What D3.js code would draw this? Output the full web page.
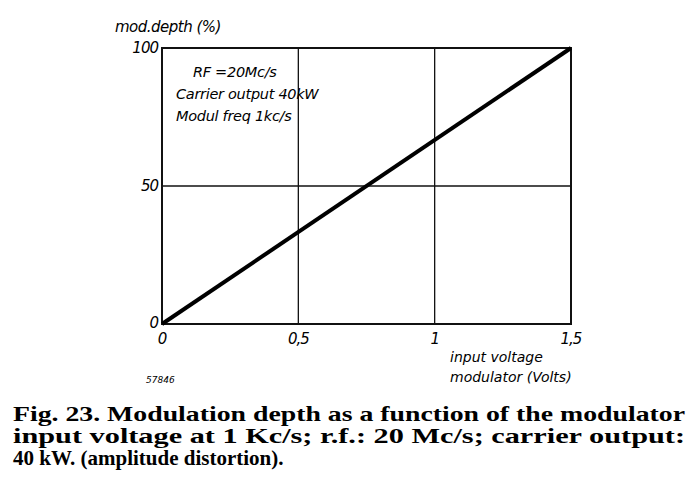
<!DOCTYPE html><html><head><meta charset="utf-8"><script src="https://d3js.org/d3.v7.min.js"></script>
<style>body{margin:0;background:#fff}</style></head><body><svg id="c" width="698" height="491"></svg>
<script>
const xTicks=[0,0.5,1,1.5];
const xLabels=["0","0,5","1","1,5"];
const yTicks=[0,50,100];
const yLabels=["0","50","100"];
const lineX=[0,1.5];
const lineY=[0,100];
const notes=["RF =20Mc/s","Carrier output 40kW","Modul freq 1kc/s"];
const caption=["Fig. 23.  Modulation depth as a function of the modulator","input voltage at 1 Kc/s; r.f.: 20 Mc/s; carrier output:","40 kW. (amplitude distortion)."];
const svg=d3.select("#c");
const x=d3.scaleLinear().domain([0,1.5]).range([162,571]);
const y=d3.scaleLinear().domain([0,100]).range([324,48]);
const hand="'DejaVu Sans', sans-serif";
svg.append("g").selectAll("line").data(xTicks.slice(1,3)).join("line")
 .attr("x1",d=>x(d)).attr("x2",d=>x(d)).attr("y1",y(0)).attr("y2",y(100)).attr("stroke","#111").attr("stroke-width",1.3);
svg.append("line").attr("x1",x(0)).attr("x2",x(1.5)).attr("y1",y(50)).attr("y2",y(50)).attr("stroke","#111").attr("stroke-width",1.3);
svg.append("rect").attr("x",x(0)).attr("y",y(100)).attr("width",x(1.5)-x(0)).attr("height",y(0)-y(100)).attr("fill","none").attr("stroke","#111").attr("stroke-width",2);
svg.append("path").datum(lineX.map((v,i)=>[v,lineY[i]])).attr("d",d3.line().x(d=>x(d[0])).y(d=>y(d[1]))).attr("stroke","#000").attr("stroke-width",4).attr("fill","none");
svg.append("g").selectAll("text").data(xTicks).join("text").attr("x",d=>x(d)).attr("y",344).attr("text-anchor","middle")
 .attr("font-family",hand).attr("font-style","italic").attr("font-size",15).attr("letter-spacing",-1).text((d,i)=>xLabels[i]);
svg.append("g").selectAll("text").data(yTicks).join("text").attr("x",158).attr("y",d=>y(d)+(d==0?4:5)).attr("text-anchor","end")
 .attr("font-family",hand).attr("font-style","italic").attr("font-size",15).attr("letter-spacing",-1).text((d,i)=>yLabels[i]);
svg.append("text").attr("x",115).attr("y",32).attr("font-family",hand).attr("font-style","italic").attr("font-size",15).attr("letter-spacing",-0.5).text("mod.depth (%)");
notes.forEach((t,i)=>svg.append("text").attr("x",i==0?193:176).attr("y",77+i*22).attr("font-family",hand).attr("font-style","italic").attr("font-size",14.5).attr("letter-spacing",-0.3).text(t));
svg.append("text").attr("x",450).attr("y",362).attr("font-family",hand).attr("font-style","italic").attr("font-size",14).text("input  voltage");
svg.append("text").attr("x",450).attr("y",382).attr("font-family",hand).attr("font-style","italic").attr("font-size",14).text("modulator (Volts)");
svg.append("text").attr("x",146).attr("y",383).attr("font-family",hand).attr("font-style","italic").attr("font-size",9).text("57846");
caption.forEach((t,i)=>{const e=svg.append("text").attr("x",13).attr("y",421+i*22).attr("font-family","'Liberation Serif', serif").attr("font-weight","bold").attr("font-size",21).text(t);
 if(i<2) e.attr("textLength",672).attr("lengthAdjust","spacingAndGlyphs");});
</script></body></html>
